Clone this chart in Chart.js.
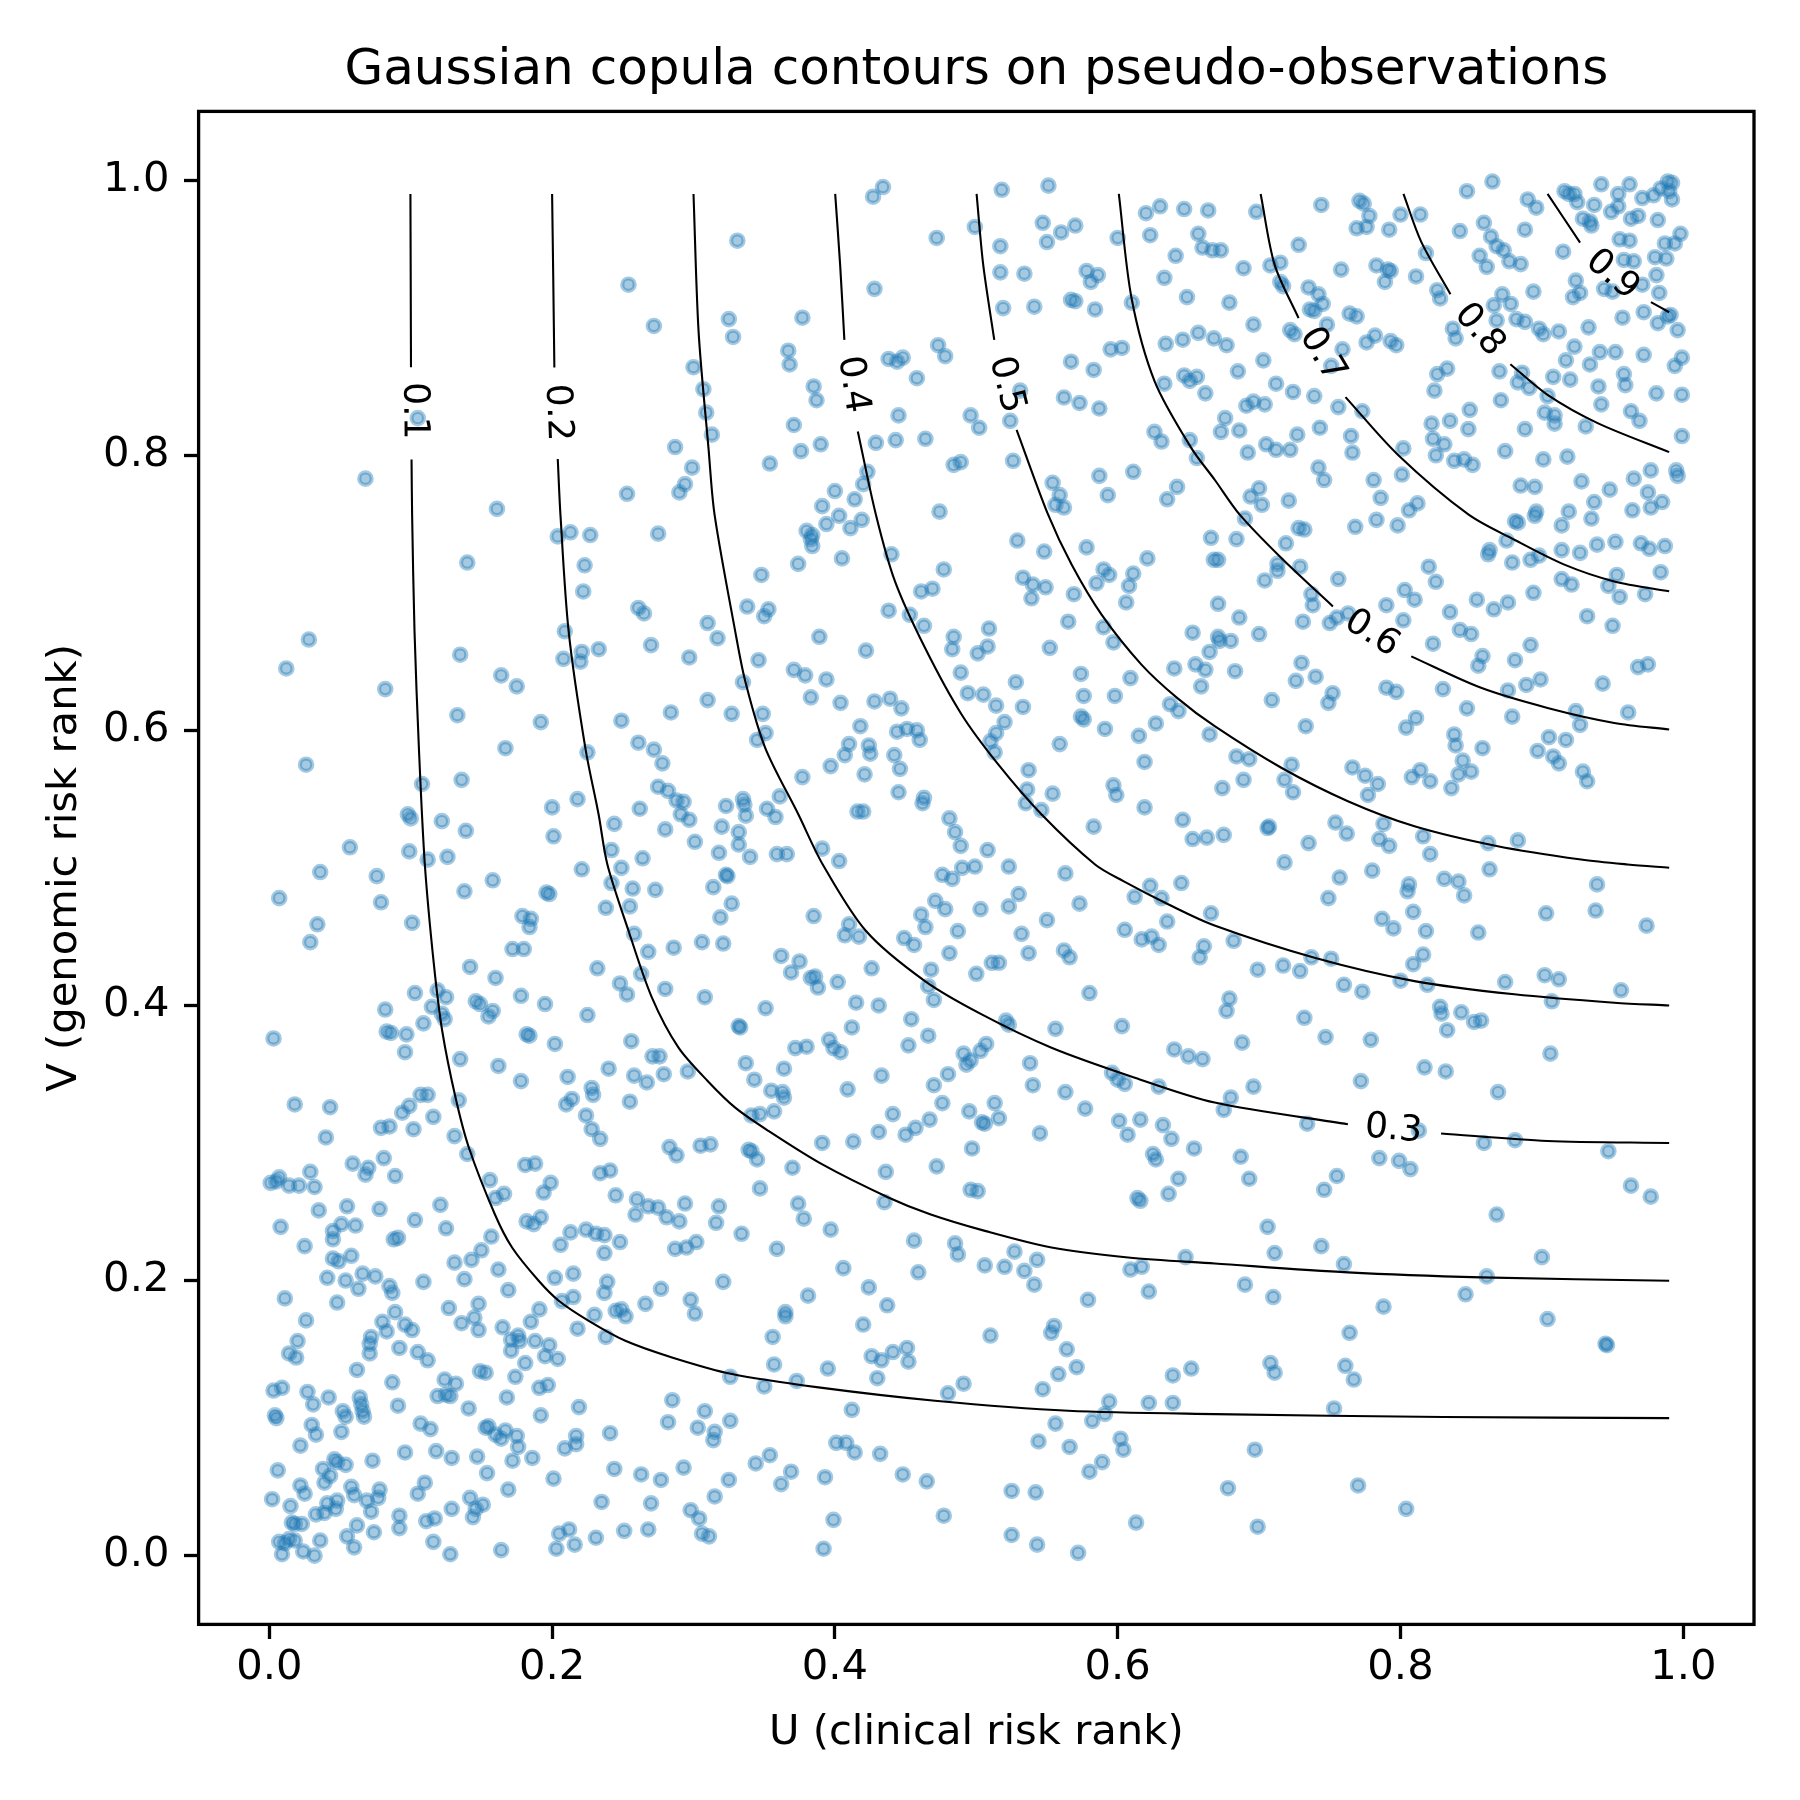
<!DOCTYPE html>
<html>
<head>
<meta charset="utf-8">
<script src="https://cdn.jsdelivr.net/npm/chart.js@4.4.1/dist/chart.umd.min.js"></script>
<style>
  html, body { margin: 0; padding: 0; background: #fff; }
  #wrap { width: 1800px; height: 1800px; }
</style>
</head>
<body>
<div id="wrap"><canvas id="chart" width="1800" height="1800"></canvas></div>
<script>
// tick positions shared by both axes
const axisTicks = [0, 0.2, 0.4, 0.6, 0.8, 1.0];

// contour levels and where their inline labels sit (u, v)
const contourLevels = [0.1, 0.2, 0.3, 0.4, 0.5, 0.6, 0.7, 0.8, 0.9];
const labelU = [0.1048, 0.2063, 0.7953, 0.4152, 0.5238, 0.7811, 0.7468, 0.8577, 0.9514];
const labelV = [0.8323, 0.8311, 0.3124, 0.8519, 0.8519, 0.6725, 0.8742, 0.8928, 0.9331];

// contour paths, null = gap left for the label
const contour01 = [[0.0998,0.99],[0.1,0.93],[0.1002,0.864],null,[0.1006,0.797],[0.101,0.757],[0.1027,0.672],[0.1058,0.587],[0.110,0.5025],[0.1164,0.4298],[0.1223,0.3814],[0.1317,0.333],[0.1411,0.2967],[0.1595,0.2482],[0.1717,0.224],[0.1905,0.1998],[0.2047,0.1853],[0.2259,0.1707],[0.2518,0.1562],[0.2848,0.1441],[0.3272,0.132],[0.3884,0.1223],[0.4708,0.1126],[0.565,0.1053],[0.6686,0.1029],[0.83,0.1008],[0.99,0.1]];
const contour02 = [[0.2,0.99],[0.2008,0.93],[0.2016,0.8638],null,[0.204,0.7973],[0.2059,0.7568],[0.2117,0.672],[0.2235,0.5873],[0.2329,0.5388],[0.2391,0.5025],[0.2541,0.4541],[0.2706,0.4057],[0.2894,0.3693],[0.310,0.3451],[0.3295,0.3257],[0.353,0.3088],[0.3908,0.2846],[0.4378,0.2604],[0.4673,0.2482],[0.5061,0.2361],[0.5532,0.224],[0.6074,0.2168],[0.6686,0.2124],[0.7628,0.2059],[0.857,0.2023],[0.99,0.1998]];
const contour03 = [[0.3,0.99],[0.3036,0.8899],[0.3106,0.8052],[0.3149,0.7568],[0.3295,0.672],[0.3366,0.6357],[0.3507,0.5873],[0.3742,0.5388],[0.3914,0.5025],[0.422,0.4541],[0.4637,0.4177],[0.5038,0.3935],[0.5532,0.3693],[0.6121,0.3475],[0.6686,0.3294],[0.7628,0.3136],null,[0.8287,0.3069],[0.904,0.3015],[0.99,0.3]];
const contour04 = [[0.4002,0.99],[0.4037,0.9384],[0.4067,0.8839],null,[0.4162,0.8173],[0.429,0.7568],[0.4425,0.7083],[0.4637,0.66],[0.4896,0.6115],[0.5155,0.5752],[0.5462,0.5388],[0.584,0.5025],[0.604,0.4904],[0.636,0.4734],[0.668,0.4583],[0.7392,0.4347],[0.8099,0.4177],[0.8805,0.4081],[0.9512,0.402],[0.99,0.4]];
const contour05 = [[0.5002,0.99],[0.5049,0.9384],[0.5127,0.8839],null,[0.5285,0.8185],[0.5508,0.7568],[0.5674,0.7205],[0.5886,0.6841],[0.6168,0.6478],[0.642,0.6236],[0.6686,0.603],[0.7157,0.5728],[0.7628,0.5485],[0.8099,0.5303],[0.8688,0.5158],[0.9277,0.5061],[0.9606,0.5025],[0.99,0.5001]];
const contour06 = [[0.6008,0.99],[0.6098,0.9142],[0.6262,0.8536],[0.6521,0.8052],[0.6686,0.7822],[0.6863,0.7568],[0.7157,0.7253],[0.7522,0.6901],null,[0.8076,0.6538],[0.857,0.6309],[0.904,0.6163],[0.9512,0.6054],[0.99,0.6006]];
const contour07 = [[0.7011,0.99],[0.711,0.9384],[0.7279,0.8997],null,[0.7611,0.8423],[0.7981,0.8004],[0.8482,0.7568],[0.8805,0.7386],[0.9159,0.7205],[0.9512,0.7083],[0.99,0.7011]];
const contour08 = [[0.8021,0.99],[0.8146,0.9553],[0.8353,0.9171],null,[0.8777,0.8662],[0.904,0.8439],[0.9394,0.8234],[0.99,0.8023]];
const contour09 = [[0.904,0.99],[0.927,0.9546],null,[0.9771,0.9113],[0.99,0.904]];
const contourLines = [contour01, contour02, contour03, contour04, contour05, contour06, contour07, contour08, contour09];

// pseudo-observations (U, V), estimated point by point
const pseudoObs = [
[0.254,0.924],[0.272,0.894],[0.325,0.899],[0.328,0.886],[0.300,0.864],[0.307,0.848],[0.309,0.831],[0.313,0.815],[0.287,0.806],[0.299,0.791],[0.294,0.779],[0.290,0.773],[0.253,0.772],[0.105,0.827],[0.068,0.783],[0.161,0.761],
[0.331,0.956],[0.434,0.995],[0.427,0.988],[0.518,0.993],[0.551,0.996],[0.499,0.966],[0.472,0.958],[0.547,0.969],[0.560,0.962],[0.570,0.967],[0.550,0.955],[0.517,0.952],[0.600,0.958],[0.620,0.976],[0.630,0.981],[0.647,0.979],[0.664,0.978],[0.623,0.960],[0.657,0.961],[0.660,0.951],[0.667,0.949],[0.641,0.945],[0.517,0.933],[0.534,0.932],[0.578,0.934],[0.586,0.931],[0.581,0.926],[0.633,0.929],[0.428,0.921],[0.567,0.913],[0.570,0.912],[0.584,0.906],[0.610,0.911],[0.649,0.915],[0.519,0.907],[0.541,0.908],[0.377,0.900],[0.367,0.876],[0.368,0.866],[0.438,0.870],[0.444,0.868],[0.448,0.871],[0.473,0.880],[0.478,0.872],[0.458,0.856],[0.385,0.850],[0.387,0.840],[0.567,0.868],[0.583,0.862],[0.595,0.877],[0.603,0.878],[0.634,0.881],[0.646,0.884],[0.657,0.889],[0.668,0.885],[0.633,0.852],[0.647,0.858],[0.651,0.854],[0.656,0.857],[0.662,0.845],[0.531,0.847],[0.562,0.842],[0.573,0.838],[0.587,0.834],[0.371,0.822],[0.445,0.829],[0.496,0.829],[0.502,0.820],[0.524,0.825],[0.390,0.808],[0.376,0.803],[0.429,0.809],[0.443,0.811],[0.464,0.812],[0.354,0.794],[0.484,0.793],[0.489,0.795],[0.526,0.796],[0.626,0.817],[0.631,0.810],[0.651,0.811],[0.656,0.798],[0.423,0.788],[0.420,0.779],[0.400,0.774],[0.414,0.768],[0.391,0.763],[0.554,0.780],[0.559,0.771],[0.556,0.764],[0.562,0.762],[0.587,0.785],[0.593,0.771],[0.611,0.788],[0.642,0.777],[0.635,0.768],[0.474,0.759],
[0.698,0.977],[0.744,0.982],[0.771,0.985],[0.774,0.983],[0.778,0.974],[0.769,0.965],[0.776,0.966],[0.792,0.964],[0.800,0.975],[0.814,0.975],[0.847,0.992],[0.865,0.999],[0.890,0.986],[0.896,0.980],[0.842,0.963],[0.859,0.969],[0.864,0.959],[0.868,0.952],[0.873,0.949],[0.877,0.941],[0.885,0.939],[0.888,0.964],[0.856,0.945],[0.861,0.937],[0.818,0.947],[0.811,0.930],[0.826,0.920],[0.828,0.914],[0.673,0.949],[0.728,0.953],[0.689,0.936],[0.708,0.938],[0.715,0.940],[0.715,0.926],[0.717,0.923],[0.758,0.935],[0.783,0.938],[0.791,0.935],[0.793,0.934],[0.789,0.926],[0.679,0.911],[0.735,0.922],[0.742,0.917],[0.745,0.910],[0.736,0.906],[0.739,0.905],[0.696,0.895],[0.722,0.891],[0.725,0.888],[0.748,0.895],[0.764,0.903],[0.769,0.901],[0.677,0.880],[0.703,0.869],[0.685,0.861],[0.759,0.877],[0.776,0.882],[0.782,0.887],[0.793,0.883],[0.797,0.880],[0.751,0.865],[0.712,0.852],[0.724,0.846],[0.739,0.843],[0.691,0.836],[0.696,0.839],[0.704,0.837],[0.676,0.827],[0.673,0.817],[0.686,0.818],[0.756,0.835],[0.773,0.832],[0.743,0.820],[0.727,0.815],[0.765,0.814],[0.705,0.808],[0.712,0.804],[0.722,0.804],[0.692,0.802],[0.766,0.802],[0.742,0.791],[0.746,0.782],[0.700,0.776],[0.694,0.770],[0.702,0.764],[0.721,0.767],[0.781,0.782],[0.786,0.769],[0.801,0.786],[0.802,0.805],[0.806,0.760],[0.812,0.765],[0.837,0.892],[0.839,0.885],[0.866,0.909],[0.872,0.917],[0.878,0.910],[0.868,0.898],[0.882,0.899],[0.888,0.897],[0.894,0.919],[0.898,0.892],[0.901,0.888],[0.912,0.890],[0.826,0.859],[0.833,0.863],[0.824,0.847],[0.870,0.861],[0.886,0.860],[0.883,0.853],[0.891,0.849],[0.908,0.857],[0.920,0.855],[0.904,0.843],[0.871,0.840],[0.849,0.833],[0.835,0.825],[0.822,0.823],[0.848,0.819],[0.823,0.812],[0.831,0.808],[0.825,0.800],[0.838,0.796],[0.845,0.797],[0.851,0.793],[0.874,0.803],[0.888,0.819],[0.902,0.831],[0.909,0.829],[0.909,0.823],[0.931,0.821],[0.901,0.797],[0.918,0.799],[0.885,0.778],[0.895,0.777],[0.896,0.759],[0.919,0.759],[0.928,0.781],[0.937,0.766],[0.948,0.775],[0.965,0.783],[0.977,0.789],[0.995,0.789],[0.996,0.785],[0.975,0.773],[0.985,0.766],[0.964,0.760],[0.977,0.762],[0.999,0.814],[0.942,0.837],[0.963,0.832],[0.969,0.825],[0.981,0.845],[0.999,0.844],[0.940,0.850],[0.958,0.859],[0.959,0.851],[0.934,0.866],[0.941,0.875],[0.952,0.875],[0.923,0.879],[0.917,0.869],[0.933,0.893],[0.972,0.873],[0.994,0.865],[0.999,0.871],[0.996,0.891],[0.957,0.900],[0.972,0.904],[0.982,0.896],[0.989,0.901],[0.991,0.902],[0.924,0.927],[0.927,0.918],[0.922,0.915],[0.944,0.921],[0.950,0.919],[0.971,0.924],[0.983,0.918],[0.981,0.931],[0.958,0.942],[0.965,0.941],[0.980,0.944],[0.988,0.943],[0.955,0.957],[0.962,0.956],[0.987,0.954],[0.994,0.954],[0.998,0.961],[0.915,0.948],[0.929,0.972],[0.934,0.970],[0.935,0.967],[0.949,0.977],[0.954,0.981],[0.963,0.972],[0.968,0.974],[0.982,0.971],[0.916,0.992],[0.919,0.990],[0.923,0.990],[0.925,0.984],[0.937,0.982],[0.942,0.997],[0.954,0.990],[0.962,0.997],[0.971,0.987],[0.979,0.989],[0.984,0.994],[0.989,0.999],[0.992,0.998],[0.990,0.992],[0.992,0.986],
[0.204,0.741],[0.213,0.744],[0.227,0.742],[0.275,0.743],[0.140,0.722],[0.223,0.720],[0.222,0.701],[0.261,0.689],[0.265,0.685],[0.310,0.678],[0.317,0.667],[0.028,0.666],[0.012,0.645],[0.082,0.630],[0.135,0.655],[0.209,0.672],[0.208,0.652],[0.221,0.657],[0.220,0.650],[0.233,0.659],[0.270,0.662],[0.297,0.653],[0.164,0.640],[0.175,0.632],[0.133,0.611],[0.192,0.606],[0.310,0.622],[0.284,0.613],[0.327,0.612],[0.249,0.607],[0.026,0.575],[0.167,0.587],[0.225,0.584],[0.261,0.591],[0.272,0.586],[0.278,0.576],[0.108,0.561],[0.136,0.564],[0.218,0.550],[0.200,0.544],[0.201,0.523],[0.275,0.559],[0.282,0.556],[0.288,0.549],[0.293,0.548],[0.291,0.539],[0.297,0.535],[0.262,0.543],[0.323,0.545],[0.320,0.530],[0.244,0.532],[0.280,0.528],[0.301,0.519],[0.318,0.511],[0.242,0.513],[0.264,0.507],[0.098,0.539],[0.100,0.536],[0.122,0.534],[0.139,0.527],[0.057,0.515],[0.099,0.512],[0.112,0.506],[0.126,0.508],
[0.403,0.756],[0.419,0.753],[0.394,0.750],[0.411,0.747],[0.380,0.745],[0.384,0.742],[0.383,0.739],[0.384,0.734],[0.374,0.721],[0.348,0.713],[0.405,0.725],[0.440,0.728],[0.477,0.717],[0.529,0.738],[0.548,0.730],[0.578,0.733],[0.621,0.725],[0.666,0.740],[0.668,0.724],[0.590,0.717],[0.594,0.713],[0.611,0.714],[0.585,0.707],[0.608,0.705],[0.606,0.693],[0.533,0.711],[0.540,0.706],[0.549,0.704],[0.539,0.696],[0.569,0.699],[0.461,0.701],[0.469,0.703],[0.338,0.690],[0.353,0.688],[0.350,0.683],[0.438,0.687],[0.453,0.684],[0.463,0.676],[0.389,0.668],[0.422,0.658],[0.346,0.651],[0.484,0.668],[0.483,0.659],[0.509,0.674],[0.508,0.661],[0.501,0.656],[0.565,0.679],[0.552,0.660],[0.590,0.675],[0.597,0.664],[0.653,0.671],[0.655,0.648],[0.662,0.644],[0.665,0.657],[0.640,0.645],[0.659,0.632],[0.609,0.638],[0.574,0.641],[0.576,0.625],[0.598,0.625],[0.528,0.635],[0.489,0.642],[0.494,0.627],[0.505,0.626],[0.514,0.618],[0.533,0.617],[0.520,0.606],[0.514,0.598],[0.510,0.592],[0.513,0.584],[0.574,0.610],[0.576,0.608],[0.591,0.601],[0.615,0.596],[0.627,0.605],[0.637,0.619],[0.643,0.614],[0.665,0.597],[0.559,0.590],[0.619,0.577],[0.537,0.571],[0.536,0.557],[0.535,0.547],[0.546,0.542],[0.554,0.554],[0.597,0.560],[0.599,0.553],[0.619,0.544],[0.583,0.530],[0.646,0.535],[0.653,0.521],[0.663,0.522],[0.335,0.635],[0.349,0.612],[0.351,0.598],[0.345,0.593],[0.371,0.644],[0.379,0.640],[0.394,0.637],[0.383,0.624],[0.404,0.620],[0.428,0.621],[0.439,0.623],[0.447,0.616],[0.418,0.603],[0.444,0.599],[0.451,0.601],[0.458,0.600],[0.460,0.593],[0.410,0.590],[0.407,0.582],[0.424,0.589],[0.425,0.583],[0.442,0.582],[0.446,0.572],[0.397,0.574],[0.421,0.568],[0.377,0.566],[0.445,0.555],[0.463,0.551],[0.462,0.547],[0.416,0.541],[0.420,0.541],[0.361,0.552],[0.335,0.550],[0.336,0.546],[0.337,0.538],[0.352,0.543],[0.358,0.537],[0.332,0.526],[0.332,0.517],[0.340,0.508],[0.359,0.510],[0.366,0.510],[0.391,0.514],[0.403,0.505],[0.481,0.536],[0.485,0.526],[0.489,0.516],[0.508,0.513],
[0.690,0.754],[0.728,0.747],[0.732,0.746],[0.768,0.748],[0.783,0.753],[0.798,0.749],[0.684,0.739],[0.671,0.724],[0.719,0.736],[0.713,0.721],[0.713,0.716],[0.729,0.719],[0.704,0.709],[0.756,0.710],[0.671,0.692],[0.737,0.699],[0.738,0.691],[0.686,0.682],[0.731,0.679],[0.750,0.678],[0.755,0.682],[0.763,0.685],[0.790,0.691],[0.803,0.702],[0.810,0.695],[0.820,0.719],[0.825,0.708],[0.802,0.680],[0.671,0.668],[0.672,0.665],[0.680,0.665],[0.700,0.670],[0.730,0.649],[0.683,0.643],[0.726,0.636],[0.740,0.639],[0.752,0.627],[0.749,0.620],[0.709,0.622],[0.733,0.603],[0.790,0.631],[0.797,0.628],[0.823,0.663],[0.830,0.630],[0.835,0.686],[0.842,0.673],[0.850,0.670],[0.854,0.695],[0.866,0.688],[0.876,0.693],[0.858,0.654],[0.855,0.647],[0.881,0.651],[0.892,0.662],[0.847,0.616],[0.876,0.629],[0.889,0.633],[0.899,0.637],[0.879,0.610],[0.811,0.609],[0.804,0.602],[0.838,0.597],[0.839,0.589],[0.858,0.587],[0.844,0.578],[0.850,0.570],[0.841,0.568],[0.836,0.558],[0.814,0.571],[0.808,0.566],[0.821,0.563],[0.766,0.573],[0.775,0.567],[0.784,0.561],[0.777,0.553],[0.684,0.581],[0.693,0.579],[0.723,0.575],[0.718,0.564],[0.724,0.555],[0.689,0.564],[0.674,0.558],[0.706,0.529],[0.707,0.530],[0.675,0.524],[0.754,0.533],[0.762,0.525],[0.735,0.518],[0.788,0.532],[0.785,0.521],[0.792,0.516],[0.816,0.523],[0.821,0.510],[0.862,0.518],[0.883,0.520],[0.718,0.504],[0.881,0.752],[0.883,0.751],[0.895,0.756],[0.914,0.749],[0.935,0.754],[0.875,0.738],[0.863,0.731],[0.862,0.728],[0.879,0.722],[0.892,0.724],[0.898,0.727],[0.914,0.731],[0.927,0.729],[0.939,0.735],[0.952,0.737],[0.970,0.736],[0.976,0.732],[0.987,0.734],[0.984,0.715],[0.953,0.713],[0.947,0.705],[0.955,0.697],[0.914,0.710],[0.921,0.706],[0.894,0.700],[0.973,0.699],[0.932,0.683],[0.950,0.676],[0.968,0.646],[0.975,0.648],[0.943,0.634],[0.961,0.613],[0.924,0.614],[0.927,0.604],[0.905,0.595],[0.917,0.593],[0.897,0.585],[0.908,0.581],[0.912,0.576],[0.929,0.570],[0.932,0.563],
[0.036,0.497],[0.076,0.494],[0.007,0.478],[0.079,0.475],[0.034,0.459],[0.029,0.446],[0.101,0.460],[0.138,0.483],[0.158,0.491],[0.221,0.499],[0.249,0.500],[0.242,0.489],[0.257,0.485],[0.273,0.484],[0.238,0.471],[0.255,0.472],[0.196,0.482],[0.198,0.481],[0.314,0.486],[0.323,0.495],[0.324,0.494],[0.327,0.474],[0.319,0.464],[0.179,0.465],[0.185,0.463],[0.184,0.457],[0.258,0.452],[0.268,0.439],[0.286,0.442],[0.306,0.446],[0.321,0.445],[0.172,0.441],[0.180,0.441],[0.142,0.428],[0.160,0.420],[0.232,0.427],[0.263,0.423],[0.280,0.412],[0.248,0.416],[0.253,0.408],[0.308,0.406],[0.103,0.409],[0.119,0.411],[0.125,0.406],[0.115,0.399],[0.122,0.394],[0.124,0.390],[0.082,0.397],[0.109,0.387],[0.146,0.403],[0.149,0.401],[0.158,0.396],[0.155,0.392],[0.178,0.407],[0.195,0.401],[0.225,0.393],[0.083,0.381],[0.086,0.380],[0.097,0.379],[0.096,0.366],[0.003,0.376],[0.182,0.379],[0.184,0.378],[0.202,0.372],[0.256,0.374],[0.135,0.361],[0.162,0.356],[0.271,0.363],[0.276,0.363],[0.240,0.354],[0.258,0.349],[0.267,0.344],[0.279,0.350],[0.296,0.352],[0.211,0.348],[0.178,0.345],[0.228,0.340],[0.229,0.335],[0.214,0.332],[0.210,0.328],[0.255,0.330],[0.224,0.320],[0.228,0.310],[0.234,0.303],[0.018,0.328],[0.043,0.326],[0.107,0.335],[0.112,0.335],[0.099,0.327],[0.094,0.322],[0.116,0.319],[0.134,0.331],[0.079,0.311],[0.085,0.312],[0.102,0.310],[0.040,0.304],[0.131,0.305],[0.140,0.292],[0.059,0.285],[0.070,0.282],[0.068,0.277],[0.081,0.289],[0.089,0.276],[0.029,0.279],[0.001,0.271],[0.007,0.275],[0.005,0.272],[0.014,0.269],[0.021,0.269],[0.032,0.268],[0.283,0.297],[0.288,0.291],[0.305,0.298],[0.312,0.299],[0.181,0.284],[0.188,0.285],[0.156,0.273],[0.160,0.260],[0.166,0.263],[0.199,0.271],[0.194,0.264],[0.234,0.278],[0.241,0.280],[0.245,0.262],[0.260,0.259],[0.268,0.254],[0.275,0.253],[0.294,0.256],[0.318,0.254],[0.035,0.251],[0.055,0.254],[0.078,0.252],[0.121,0.255],
[0.476,0.495],[0.483,0.492],[0.490,0.500],[0.499,0.501],[0.523,0.501],[0.563,0.496],[0.623,0.487],[0.631,0.478],[0.645,0.489],[0.612,0.479],[0.635,0.461],[0.666,0.467],[0.573,0.474],[0.550,0.462],[0.530,0.481],[0.523,0.472],[0.503,0.470],[0.471,0.476],[0.478,0.470],[0.461,0.466],[0.464,0.457],[0.449,0.449],[0.456,0.444],[0.487,0.454],[0.481,0.438],[0.532,0.452],[0.537,0.438],[0.562,0.440],[0.566,0.435],[0.605,0.455],[0.617,0.448],[0.624,0.450],[0.629,0.444],[0.661,0.443],[0.658,0.435],[0.511,0.431],[0.516,0.431],[0.468,0.426],[0.466,0.414],[0.470,0.404],[0.500,0.423],[0.580,0.409],[0.385,0.465],[0.410,0.459],[0.407,0.451],[0.417,0.450],[0.362,0.436],[0.375,0.432],[0.369,0.424],[0.383,0.420],[0.386,0.421],[0.388,0.413],[0.402,0.417],[0.426,0.427],[0.351,0.398],[0.415,0.402],[0.431,0.400],[0.333,0.384],[0.332,0.385],[0.412,0.384],[0.454,0.390],[0.466,0.378],[0.452,0.371],[0.521,0.389],[0.523,0.386],[0.556,0.383],[0.603,0.385],[0.372,0.369],[0.380,0.370],[0.396,0.375],[0.399,0.369],[0.404,0.366],[0.337,0.358],[0.364,0.354],[0.343,0.346],[0.355,0.338],[0.363,0.337],[0.364,0.333],[0.341,0.320],[0.347,0.321],[0.357,0.323],[0.409,0.339],[0.433,0.349],[0.491,0.365],[0.496,0.360],[0.493,0.357],[0.503,0.367],[0.507,0.372],[0.480,0.350],[0.470,0.342],[0.538,0.358],[0.540,0.342],[0.563,0.337],[0.577,0.325],[0.596,0.351],[0.600,0.346],[0.605,0.343],[0.629,0.341],[0.640,0.368],[0.650,0.363],[0.660,0.361],[0.476,0.329],[0.495,0.323],[0.504,0.315],[0.506,0.314],[0.513,0.329],[0.516,0.318],[0.467,0.317],[0.457,0.311],[0.450,0.306],[0.441,0.321],[0.431,0.308],[0.413,0.301],[0.391,0.300],[0.339,0.295],[0.341,0.294],[0.345,0.288],[0.370,0.282],[0.347,0.267],[0.374,0.256],[0.436,0.279],[0.435,0.257],[0.472,0.283],[0.497,0.296],[0.496,0.266],[0.501,0.265],[0.545,0.307],[0.601,0.316],[0.616,0.317],[0.607,0.306],[0.632,0.313],[0.638,0.303],[0.654,0.296],[0.625,0.292],[0.627,0.288],[0.643,0.274],[0.636,0.263],[0.614,0.260],[0.616,0.258],
[0.757,0.493],[0.780,0.498],[0.806,0.488],[0.805,0.483],[0.831,0.492],[0.841,0.490],[0.845,0.480],[0.863,0.499],[0.749,0.478],[0.809,0.468],[0.787,0.463],[0.795,0.456],[0.818,0.454],[0.855,0.453],[0.903,0.467],[0.939,0.488],[0.938,0.469],[0.974,0.458],[0.682,0.447],[0.699,0.426],[0.717,0.429],[0.729,0.425],[0.737,0.435],[0.751,0.434],[0.816,0.437],[0.809,0.430],[0.800,0.418],[0.819,0.415],[0.760,0.415],[0.773,0.410],[0.679,0.405],[0.677,0.396],[0.732,0.391],[0.828,0.399],[0.829,0.394],[0.843,0.395],[0.852,0.388],[0.857,0.389],[0.833,0.382],[0.874,0.417],[0.902,0.422],[0.912,0.419],[0.907,0.403],[0.956,0.411],[0.688,0.373],[0.747,0.377],[0.779,0.375],[0.906,0.365],[0.817,0.355],[0.832,0.352],[0.772,0.345],[0.869,0.337],[0.696,0.341],[0.680,0.333],[0.675,0.324],[0.734,0.314],[0.813,0.309],[0.859,0.300],[0.881,0.302],[0.947,0.294],[0.687,0.290],[0.693,0.274],[0.785,0.289],[0.799,0.287],[0.807,0.281],[0.755,0.276],[0.746,0.266],[0.963,0.269],[0.977,0.261],
[0.103,0.244],[0.125,0.238],[0.008,0.239],[0.025,0.225],[0.045,0.236],[0.045,0.230],[0.051,0.241],[0.061,0.240],[0.088,0.230],[0.091,0.231],[0.045,0.216],[0.049,0.214],[0.058,0.218],[0.041,0.202],[0.054,0.200],[0.066,0.205],[0.075,0.203],[0.063,0.194],[0.085,0.196],[0.087,0.191],[0.109,0.199],[0.011,0.187],[0.048,0.184],[0.026,0.171],[0.089,0.177],[0.096,0.168],[0.101,0.164],[0.080,0.170],[0.083,0.163],[0.072,0.159],[0.071,0.154],[0.071,0.147],[0.020,0.156],[0.014,0.147],[0.019,0.144],[0.062,0.135],[0.092,0.151],[0.105,0.148],[0.112,0.142],[0.087,0.126],[0.003,0.120],[0.009,0.122],[0.027,0.119],[0.031,0.110],[0.042,0.115],[0.064,0.115],[0.065,0.110],[0.066,0.105],[0.067,0.101],[0.052,0.105],[0.054,0.101],[0.004,0.102],[0.005,0.100],[0.030,0.095],[0.033,0.088],[0.051,0.090],[0.022,0.080],[0.091,0.109],[0.107,0.096],[0.114,0.092],[0.124,0.128],[0.132,0.125],[0.119,0.116],[0.125,0.117],[0.128,0.116],[0.141,0.107],[0.127,0.180],[0.148,0.183],[0.136,0.169],[0.145,0.173],[0.148,0.164],[0.131,0.213],[0.143,0.215],[0.150,0.222],[0.157,0.232],[0.138,0.201],[0.162,0.208],[0.169,0.193],[0.165,0.166],[0.171,0.157],[0.176,0.160],[0.177,0.156],[0.171,0.149],[0.181,0.140],[0.174,0.130],[0.185,0.170],[0.191,0.179],[0.188,0.156],[0.198,0.153],[0.195,0.145],[0.204,0.143],[0.149,0.134],[0.153,0.133],[0.168,0.115],[0.191,0.122],[0.197,0.124],[0.192,0.102],[0.219,0.108],
[0.153,0.093],[0.155,0.094],[0.160,0.088],[0.164,0.085],[0.167,0.091],[0.175,0.087],[0.176,0.079],[0.096,0.075],[0.118,0.076],[0.129,0.071],[0.147,0.072],[0.154,0.060],[0.172,0.069],[0.186,0.071],[0.073,0.069],[0.006,0.062],[0.038,0.063],[0.046,0.070],[0.048,0.068],[0.054,0.066],[0.043,0.058],[0.039,0.053],[0.022,0.051],[0.025,0.045],[0.002,0.041],[0.015,0.036],[0.058,0.050],[0.060,0.044],[0.069,0.040],[0.078,0.048],[0.077,0.042],[0.072,0.032],[0.041,0.038],[0.048,0.040],[0.047,0.034],[0.033,0.030],[0.039,0.031],[0.016,0.024],[0.018,0.023],[0.023,0.023],[0.007,0.010],[0.011,0.009],[0.014,0.012],[0.018,0.011],[0.009,0.001],[0.024,0.003],[0.032,0.000],[0.036,0.011],[0.055,0.014],[0.060,0.006],[0.062,0.022],[0.074,0.017],[0.092,0.029],[0.092,0.020],[0.105,0.045],[0.110,0.053],[0.111,0.025],[0.117,0.027],[0.116,0.010],[0.128,0.001],[0.129,0.034],[0.142,0.042],[0.146,0.034],[0.144,0.028],[0.151,0.037],[0.169,0.048],[0.164,0.004],[0.201,0.056],[0.209,0.078],[0.217,0.087],[0.217,0.081],[0.241,0.089],[0.244,0.063],[0.263,0.059],[0.277,0.055],[0.293,0.064],[0.235,0.039],[0.270,0.038],[0.205,0.016],[0.212,0.019],[0.203,0.005],[0.216,0.008],[0.231,0.013],[0.251,0.018],[0.268,0.019],[0.298,0.033],[0.304,0.027],[0.306,0.016],[0.311,0.014],[0.315,0.043],[0.325,0.055],[0.282,0.097],[0.285,0.113],[0.308,0.105],[0.303,0.093],[0.315,0.090],[0.314,0.084],[0.326,0.098],[0.326,0.130],[0.316,0.242],[0.259,0.248],[0.281,0.246],[0.290,0.243],[0.182,0.243],[0.187,0.241],[0.192,0.246],[0.206,0.226],[0.213,0.235],[0.224,0.237],[0.231,0.234],[0.237,0.233],[0.248,0.228],[0.237,0.220],[0.287,0.223],[0.295,0.224],[0.302,0.228],[0.202,0.202],[0.215,0.205],[0.239,0.199],[0.237,0.191],[0.277,0.194],[0.321,0.199],[0.207,0.185],[0.215,0.188],[0.230,0.175],[0.245,0.178],[0.249,0.179],[0.252,0.174],[0.266,0.183],[0.298,0.186],[0.301,0.176],[0.218,0.165],[0.238,0.159],
[0.378,0.245],[0.334,0.234],[0.397,0.237],[0.359,0.223],[0.406,0.209],[0.381,0.189],[0.424,0.195],[0.437,0.182],[0.365,0.177],[0.365,0.174],[0.356,0.159],[0.420,0.168],[0.357,0.139],[0.395,0.136],[0.373,0.127],[0.350,0.123],[0.426,0.145],[0.433,0.142],[0.441,0.148],[0.451,0.151],[0.452,0.141],[0.430,0.129],[0.456,0.229],[0.459,0.206],[0.485,0.227],[0.487,0.219],[0.506,0.211],[0.520,0.210],[0.527,0.221],[0.534,0.207],[0.543,0.215],[0.541,0.197],[0.579,0.186],[0.609,0.208],[0.617,0.210],[0.622,0.192],[0.648,0.217],[0.510,0.160],[0.555,0.167],[0.553,0.162],[0.564,0.150],[0.571,0.137],[0.558,0.132],[0.547,0.121],[0.480,0.118],[0.491,0.125],[0.594,0.112],[0.591,0.103],[0.622,0.111],[0.639,0.111],[0.639,0.131],[0.652,0.136],[0.556,0.096],[0.582,0.098],[0.544,0.083],[0.566,0.079],[0.602,0.085],[0.604,0.077],[0.589,0.068],[0.580,0.061],[0.412,0.106],[0.401,0.082],[0.408,0.082],[0.414,0.075],[0.432,0.074],[0.354,0.073],[0.344,0.067],[0.369,0.061],[0.362,0.052],[0.393,0.057],[0.448,0.059],[0.465,0.054],[0.525,0.047],[0.542,0.046],[0.399,0.026],[0.477,0.029],[0.613,0.024],[0.525,0.015],[0.543,0.008],[0.572,0.002],[0.392,0.005],
[0.868,0.248],[0.706,0.239],[0.711,0.220],[0.744,0.225],[0.760,0.212],[0.900,0.217],[0.690,0.197],[0.710,0.188],[0.788,0.181],[0.846,0.190],[0.861,0.203],[0.904,0.172],[0.945,0.154],[0.946,0.153],[0.764,0.162],[0.708,0.140],[0.711,0.133],[0.761,0.138],[0.767,0.128],[0.753,0.107],[0.697,0.077],[0.678,0.049],[0.770,0.051],[0.804,0.034],[0.699,0.021]
];

Chart.defaults.font.family = "'DejaVu Sans', 'Liberation Sans', sans-serif";
Chart.defaults.color = '#000';

function segmentsOf(path) {
    const segs = [[]];
    path.forEach(p => {
        if (p === null) segs.push([]);
        else segs[segs.length - 1].push({ x: p[0], y: p[1] });
    });
    return segs.filter(s => s.length > 1);
}

const datasets = [{
    label: 'pseudo-observations',
    data: pseudoObs.map(p => ({ x: p[0], y: p[1] })),
    pointRadius: 6.2,
    pointHoverRadius: 6.2,
    borderWidth: 4.2,
    backgroundColor: 'rgba(31, 119, 180, 0.4)',
    borderColor: 'rgba(31, 119, 180, 0.4)',
    order: 1
}];

contourLines.forEach(path => {
    segmentsOf(path).forEach(seg => {
        datasets.push({
            data: seg,
            showLine: true,
            pointRadius: 0,
            pointHoverRadius: 0,
            borderColor: '#000',
            borderWidth: 2.1,
            tension: 0.3,
            fill: false,
            order: 0
        });
    });
});

// inline contour labels + the axes frame
const contourLabelPlugin = {
    id: 'contourLabels',
    afterDatasetsDraw(chart) {
        const { ctx, chartArea, scales: { x, y } } = chart;
        const fs = 36;
        ctx.save();
        ctx.font = fs + "px 'DejaVu Sans'";
        ctx.fillStyle = '#000';
        ctx.textAlign = 'center';
        ctx.textBaseline = 'alphabetic';
        contourLevels.forEach((lev, i) => {
            const path = contourLines[i];
            const gap = path.indexOf(null);
            const a = path[gap - 1], b = path[gap + 1];
            let ang = Math.atan2(
                y.getPixelForValue(b[1]) - y.getPixelForValue(a[1]),
                x.getPixelForValue(b[0]) - x.getPixelForValue(a[0]));
            if (ang > Math.PI / 2) ang -= Math.PI;
            if (ang < -Math.PI / 2) ang += Math.PI;
            ctx.save();
            ctx.translate(x.getPixelForValue(labelU[i]), y.getPixelForValue(labelV[i]));
            ctx.rotate(ang);
            ctx.fillText(lev.toFixed(1), 0, fs * 0.364);
            ctx.restore();
        });
        ctx.strokeStyle = '#000';
        ctx.lineWidth = 3.3;
        ctx.strokeRect(chartArea.left, chartArea.top,
            chartArea.right - chartArea.left, chartArea.bottom - chartArea.top);
        ctx.restore();
    }
};

const tickFont = { size: 41.7 };

new Chart(document.getElementById('chart'), {
    type: 'scatter',
    data: { datasets },
    options: {
        responsive: false,
        animation: false,
        devicePixelRatio: 1,
        layout: { padding: { left: 0, right: 46, top: 0, bottom: 0 } },
        plugins: {
            legend: { display: false },
            tooltip: { enabled: false },
            title: {
                display: true,
                text: 'Gaussian copula contours on pseudo-observations',
                font: { size: 50, weight: 'normal' },
                color: '#000',
                fullSize: false,
                padding: { top: 41, bottom: 10.4 }
            }
        },
        scales: {
            x: {
                type: 'linear',
                min: -0.05,
                max: 1.05,
                afterBuildTicks: s => { s.ticks = axisTicks.map(v => ({ value: v })); },
                afterFit: s => { s.height = 175.6; },
                ticks: {
                    callback: v => Number(v).toFixed(1),
                    font: tickFont,
                    color: '#000',
                    padding: 4,
                    autoSkip: false,
                    maxRotation: 0
                },
                grid: {
                    drawOnChartArea: false,
                    drawTicks: true,
                    tickLength: 14.6,
                    tickWidth: 3.3,
                    color: '#000'
                },
                border: { display: false },
                title: {
                    display: true,
                    text: 'U (clinical risk rank)',
                    font: { size: 41.7 },
                    color: '#000',
                    padding: { top: 0, bottom: 42 }
                }
            },
            y: {
                type: 'linear',
                min: -0.05,
                max: 1.05,
                afterBuildTicks: s => { s.ticks = axisTicks.map(v => ({ value: v })); },
                afterFit: s => { s.width = 198.6; },
                ticks: {
                    callback: v => Number(v).toFixed(1),
                    font: tickFont,
                    color: '#000',
                    padding: 14.6,
                    autoSkip: false
                },
                grid: {
                    drawOnChartArea: false,
                    drawTicks: true,
                    tickLength: 14.6,
                    tickWidth: 3.3,
                    color: '#000'
                },
                border: { display: false },
                title: {
                    display: true,
                    text: 'V (genomic risk rank)',
                    font: { size: 41.7 },
                    color: '#000',
                    padding: { top: 40.4, bottom: 0 }
                }
            }
        }
    },
    plugins: [contourLabelPlugin]
});
</script>
</body>
</html>
